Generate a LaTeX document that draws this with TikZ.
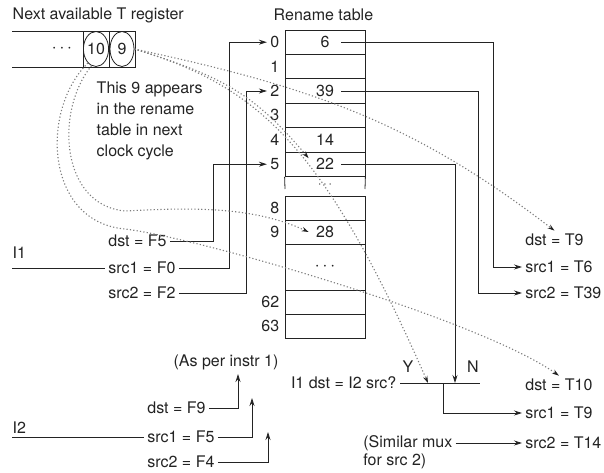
\documentclass[tikz,border=0pt]{standalone}
\usepackage{fontspec}
\setmainfont{TeX Gyre Heros}
\usepackage{tikz}
\usetikzlibrary{positioning}
\usetikzlibrary{arrows.meta}
\usetikzlibrary{shapes.geometric,calc}
\definecolor{inkgray}{RGB}{35,35,35}
\definecolor{dotgray}{RGB}{125,125,125}

\begin{document}
\begin{tikzpicture}[x=1pt,y=-1pt,
    font=\fontsize{16}{21}\selectfont, text=inkgray,
    line width=0.8pt, draw=inkgray,
    >={Stealth[length=8pt,width=5pt]},
    cell/.style={draw,minimum width=80pt,minimum height=24.4pt,inner sep=0pt},
    idx/.style={anchor=east,inner sep=3pt},
    val/.style={minimum width=32pt,inner sep=0pt},
    lbl/.style={anchor=west,inner sep=3pt},
    treg/.style={ellipse,draw,minimum width=24pt,minimum height=35pt,inner sep=0pt},
    hop/.style={dotgray,dash pattern=on 1.2pt off 2.2pt,line width=1.1pt,
                -{Stealth[length=7pt,width=4.5pt,inkgray]}}]
	\useasboundingbox (0,0) rectangle (604,472);

	% titles
	\node[anchor=west] (regtitle) at (9,15) {Next available T register};
	\node[anchor=west] (tabtitle) at (270,15) {Rename table};

	% free T register list
	\draw (12,31) -- (135,31) (12,67) -- (135,67);
	\draw (83,31) rectangle (135,67) (109,31) -- (109,67);
	\node[treg] (t10) at (96,49) {10};
	\node[treg] (t9) at (122,49) {9};
	\node (regdots) at (62,49) {$\cdots$};
	\node[anchor=north west,align=left] (note) at (93,78)
	    {This 9 appears\\in the rename\\table in next\\clock cycle};

	% rename table
	\foreach \i in {0,...,5} {
	    \node[cell] (r\i) at (325,{42.2+24.4*\i}) {};
	    \node[idx] (i\i) at ([xshift=-2pt]r\i.west) {\i};
	}
	\draw (r5.south west) -- (285,189) (r5.south east) -- (365,189);
	\node[inner sep=0pt,font=\fontsize{12}{12}\selectfont] (updots) at (325,185) {$\cdots$};
	\node[cell,minimum height=24pt] (r8) at (325,208) {};
	\node[cell,minimum height=24pt] (r9) at (325,232) {};
	\node[cell,minimum height=46pt] (rd) at (325,267) {$\cdots$};
	\node[cell,minimum height=24pt] (r62) at (325,302) {};
	\node[cell,minimum height=24pt] (r63) at (325,326) {};
	\foreach \i in {8,9,62,63}
	    \node[idx] (i\i) at ([xshift=-2pt]r\i.west) {\i};
	\node[val] (v0) at (r0) {6};
	\node[val] (v2) at (r2) {39};
	\node[val] (v4) at (r4) {14};
	\node[val] (v5) at (r5) {22};
	\node[val] (v9) at (r9) {28};

	% instruction 1
	\node[anchor=west] (I1) at (9,253) {I1};
	\coordinate (I1a) at (12,268);
	\node[lbl] (dF5) at (105,241) {dst = F5};
	\node[lbl] (sF0) at (105,268) {src1 = F0};
	\node[lbl] (sF2) at (105,293) {src2 = F2};
	\draw (I1a) -- (sF0.west);
	\coordinate (x5) at (213,0);
	\coordinate (x0) at (229,0);
	\coordinate (x2) at (246,0);
	\draw[->] (dF5.east) -| (x5 |- i5) -- (i5.west);
	\draw[->] (sF0.east) -| (x0 |- i0) -- (i0.west);
	\draw[->] (sF2.east) -| (x2 |- i2) -- (i2.west);

	% renamed instruction 1
	\node[lbl] (dT9) at (522,240) {dst = T9};
	\node[lbl] (sT6) at (522,267) {src1 = T6};
	\node[lbl] (sT39) at (522,293) {src2 = T39};
	\coordinate (y0) at (493,0);
	\coordinate (y2) at (478,0);
	\draw[->] (v0.east) -| (y0 |- sT6) -- (sT6.west);
	\draw[->] (v2.east) -| (y2 |- sT39) -- (sT39.west);

	% bypass mux
	\node[anchor=east] (cmp) at (400,383) {I1 dst = I2 src?};
	\coordinate (muxR) at (480,383);
	\coordinate (muxY) at (428,383);
	\coordinate (muxN) at (455,383);
	\coordinate (muxO) at (443,383);
	\draw (cmp.east) -- (muxR);
	\node (Ylab) at (408,367) {Y};
	\node (Nlab) at (473,367) {N};
	\draw[->] (v5.east) -| (muxN);
	\node[lbl] (dT10) at (522,385) {dst = T10};
	\node[lbl] (sT9) at (522,413) {src1 = T9};
	\node[lbl] (sT14) at (522,443) {src2 = T14};
	\draw[->] (muxO) |- (sT9.west);
	\node[lbl] (simA) at (360,443) {(Similar mux};
	\node[lbl] (simB) at (360,461) {for src 2)};
	\draw[->] (simA.east) -- (sT14.west);

	% instruction 2
	\node[anchor=west] (I2) at (9,428) {I2};
	\coordinate (I2a) at (12,437);
	\node[lbl] (dF9) at (144,408) {dst = F9};
	\node[lbl] (sF5) at (144,437) {src1 = F5};
	\node[lbl] (sF4) at (144,462) {src2 = F4};
	\draw (I2a) -- (sF5.west);
	\node (asper) at (226,362) {(As per instr 1)};
	\coordinate (pF9) at (238,374);
	\coordinate (pF5) at (252,398);
	\coordinate (pF4) at (268,432);
	\draw[->] (dF9.east) -| (pF9);
	\draw[->] (sF5.east) -| (pF5);
	\draw[->] (sF4.east) -| (pF4);

	% where the free T registers go
	\draw[hop] (t9.east) .. controls (312,87) and (413,122) .. (dT9.north);
	\draw[hop] (t9.east) .. controls (225,77) and (255,95) .. (v5.north west);
	\draw[hop] (t9.east) .. controls (257,86) and (322,142) .. (muxY);
	\draw[hop] (t10.-105) .. controls (55,110) and (60,205) .. (125,211)
	    .. controls (185,208) and (250,205) .. (v9.west);
	\draw[hop] (t10.-120) .. controls (40,110) and (45,222) .. (125,229)
	    .. controls (200,238) and (480,320) .. (dT10.north);
\end{tikzpicture}
\end{document}
